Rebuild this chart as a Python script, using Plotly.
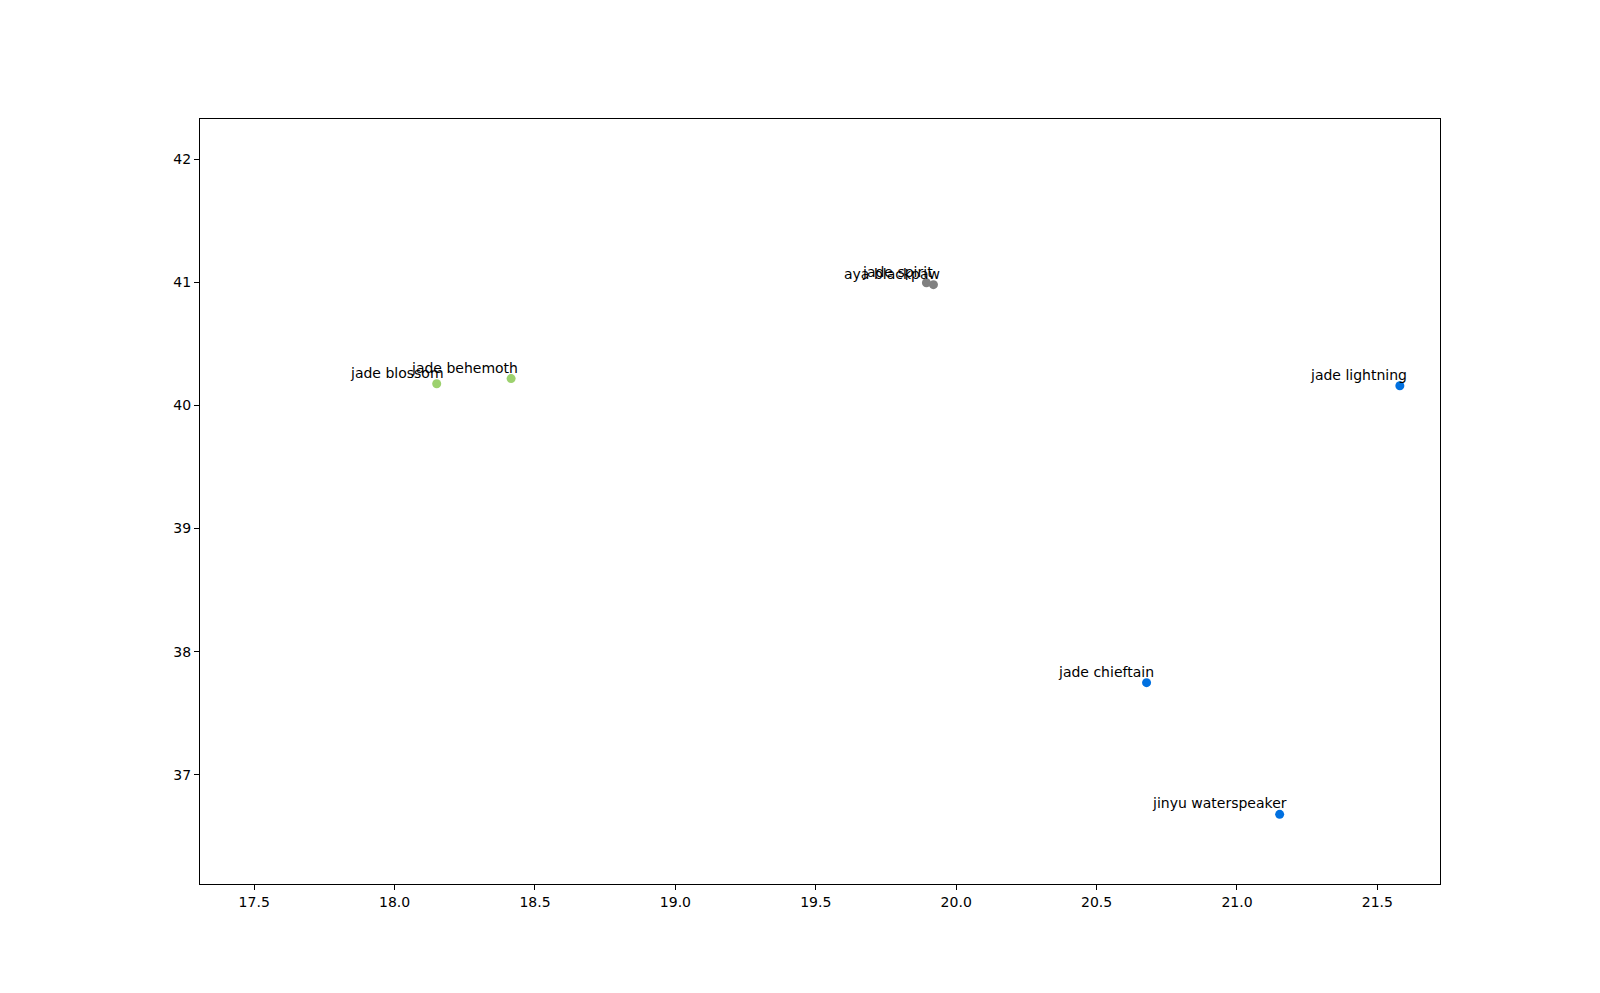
import plotly.graph_objects as go

# Nama dan posisi titik
names = ["jade blossom", "jade behemoth", "jade spirit", "aya blackpaw",
         "jade lightning", "jade chieftain", "jinyu waterspeaker"]
x_vals = [18.15, 18.415, 19.894, 19.919, 21.58, 20.678, 21.152]
y_vals = [40.176, 40.218, 40.997, 40.981, 40.160, 37.748, 36.678]
groups = ["green", "green", "gray", "gray", "blue", "blue", "blue"]

GROUP_COLORS = {
    "green": "#9CD16E",
    "gray": "#808080",
    "blue": "#0070E0",
}

x_ticks = [17.5, 18.0, 18.5, 19.0, 19.5, 20.0, 20.5, 21.0, 21.5]
y_ticks = [37, 38, 39, 40, 41, 42]

fig = go.Figure()
fig.add_trace(go.Scatter(
    x=x_vals,
    y=y_vals,
    mode="markers",
    marker=dict(size=9, color=[GROUP_COLORS[g] for g in groups], line=dict(width=0)),
    showlegend=False,
    hoverinfo="skip",
))

# label teks di atas-kiri tiap titik
for nm, xv, yv in zip(names, x_vals, y_vals):
    fig.add_annotation(
        x=xv, y=yv, text=nm, showarrow=False,
        xanchor="right", yanchor="bottom",
        xshift=9, yshift=1,
        font=dict(family="DejaVu Sans", size=14, color="black"),
    )

axis_style = dict(
    showgrid=False, zeroline=False,
    showline=True, linecolor="black", linewidth=1.1, mirror=True,
    ticks="outside", ticklen=5, tickwidth=1.1, tickcolor="black",
    tickfont=dict(family="DejaVu Sans", size=14, color="black"),
)

# halaman punya margin body 8px, jadi margin dikurangi
fig.update_layout(
    width=1600, height=993,
    paper_bgcolor="white", plot_bgcolor="white",
    margin=dict(l=192, r=168, t=111, b=117),
    xaxis=dict(range=[17.307, 21.723], tickvals=x_ticks,
               ticktext=[f"{v:.1f}" for v in x_ticks], **axis_style),
    yaxis=dict(range=[36.112, 42.327], tickvals=y_ticks,
               ticktext=[str(v) for v in y_ticks], **axis_style),
)

fig.write_html("out.html")
